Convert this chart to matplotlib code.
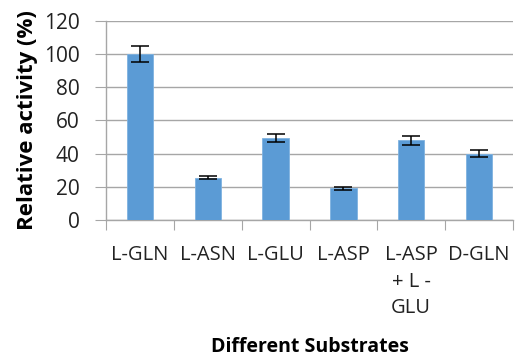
import matplotlib
matplotlib.use("Agg")
import matplotlib.pyplot as plt
import numpy as np

plt.rcParams['font.family'] = ['Open Sans', 'DejaVu Sans']

substrates = ['L-GLN', 'L-ASN', 'L-GLU', 'L-ASP', 'L-ASP\n+ L -\nGLU', 'D-GLN']
activity = [100, 25.5, 49.5, 19, 48, 40]
errors = [5, 1.1, 2.6, 0.8, 2.7, 2.1]

fig = plt.figure(figsize=(5.15, 3.6), dpi=100)
ax = fig.add_axes([0.206, 0.389, 0.790, 0.553])

x = np.arange(len(substrates))
ax.bar(x, activity, width=0.39, color='#5B9BD5', edgecolor='#7FB2E0',
       linewidth=0.6, zorder=3)
ax.errorbar(x, activity, yerr=errors, fmt='none', ecolor='black',
            elinewidth=1.1, capsize=6.5, capthick=1.1, zorder=4)

ax.set_xlim(-0.5, len(substrates) - 0.5)
ax.set_ylim(0, 120)
ax.set_yticks(range(0, 121, 20))
ax.yaxis.grid(True, color='#A6A6A6', linewidth=1.0, zorder=0)
ax.set_axisbelow(True)

# ticks at category boundaries, labels in the middle
ax.set_xticks(np.arange(-0.5, len(substrates), 1.0))
ax.set_xticklabels([])
ax.set_xticks(x, minor=True)
ax.set_xticklabels(substrates, minor=True, fontsize=14.5, va='top',
                   linespacing=1.45)
ax.tick_params(axis='x', which='minor', length=0, pad=18)
ax.tick_params(axis='x', which='major', length=7, color='#A6A6A6', direction='out')
ax.tick_params(axis='y', length=8, color='#A6A6A6', direction='out',
               labelsize=15, pad=11, labelcolor='#222222')
ax.tick_params(axis='x', which='minor', labelcolor='#222222')

for side in ['top', 'right']:
    ax.spines[side].set_visible(False)
for side in ['left', 'bottom']:
    ax.spines[side].set_color('#A6A6A6')
    ax.spines[side].set_linewidth(1.0)

ax.set_ylabel('Relative activity (%)', fontsize=16, fontweight='bold', labelpad=4)
fig.text(0.5 * (0.206 + 0.996), 0.035, 'Different Substrates', ha='center',
         va='center', fontsize=14, fontweight='bold')

fig.savefig('out.png', dpi=100)
